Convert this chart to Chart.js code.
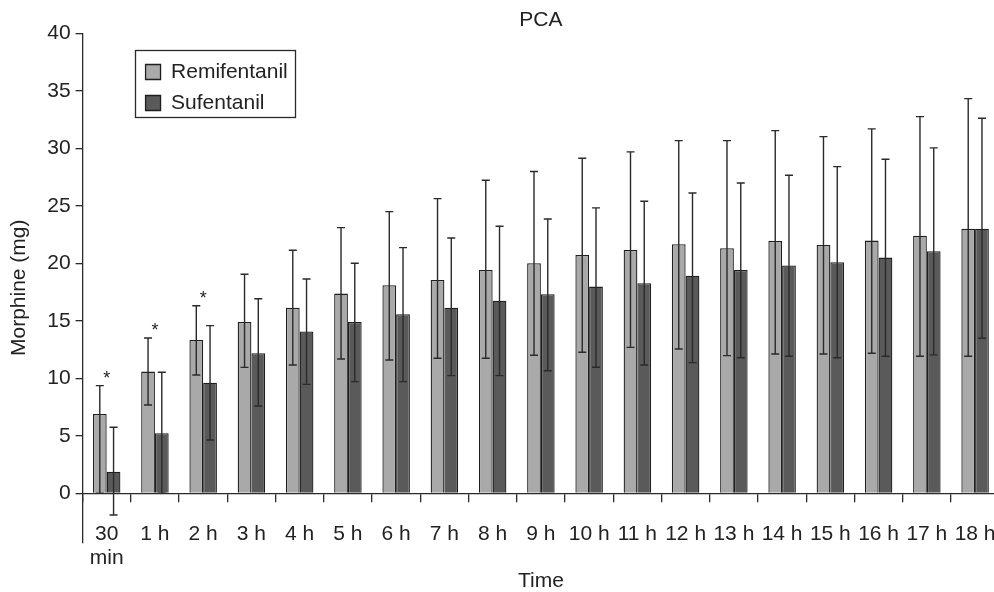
<!DOCTYPE html>
<html><head><meta charset="utf-8">
<script src="https://cdn.jsdelivr.net/npm/chart.js@4/dist/chart.umd.min.js"></script>
<style>html,body{margin:0;padding:0;background:#fff;overflow:hidden;width:994px;height:592px;}canvas{display:block;}</style>
</head><body>
<canvas id="c" width="1017" height="592"></canvas>
<script>
// ---- data ----
const CATEGORIES = [['30','min'],'1 h','2 h','3 h','4 h','5 h','6 h','7 h','8 h','9 h','10 h','11 h','12 h','13 h','14 h','15 h','16 h','17 h','18 h'];
const REMI_MEAN = [6.9,10.58,13.33,14.9,16.14,17.36,18.09,18.55,19.42,20.0,20.72,21.16,21.65,21.3,21.94,21.59,21.97,22.4,23.01];
const REMI_HIGH = [9.36,13.5,16.3,19.04,21.13,23.1,24.49,25.62,27.22,27.97,29.13,29.68,30.66,30.66,31.53,31.01,31.68,32.75,34.31];
const REMI_LOW  = [0,7.68,10.29,10.95,11.16,11.68,11.59,11.74,11.74,12.0,12.26,12.69,12.55,11.97,12.11,12.11,12.17,11.91,11.91];
const SUFE_MEAN = [1.88,5.22,9.62,12.17,14.06,14.9,15.56,16.14,16.75,17.3,17.97,18.26,18.92,19.42,19.8,20.09,20.49,21.04,23.01];
const SUFE_HIGH = [5.74,10.52,14.58,16.92,18.63,20.0,21.36,22.2,23.22,23.85,24.81,25.39,26.11,26.98,27.65,28.4,29.04,30.03,32.61];
const SUFE_LOW  = [-1.89,0,4.64,7.59,9.47,9.71,9.71,10.23,10.23,10.66,10.96,11.16,11.36,11.79,11.91,11.79,11.91,12.03,13.48];
const SIGNIFICANT = ['*','*','*','','','','','','','','','','','','','','','',''];
const Y_TICKS = [0,5,10,15,20,25,30,35,40];
const Y_MIN = -4.26, Y_MAX = 40;

const FONT = "'Liberation Sans', Arial, Helvetica, sans-serif";
const INK = '#222';
const LINE = '#2a2a2a';
Chart.defaults.font.family = FONT;
Chart.defaults.font.size = 21;
Chart.defaults.color = INK;

const legendMover = {
  id: 'legendMover',
  afterLayout(chart) {
    const lg = chart.legend; if (!lg) return;
    const ca = chart.chartArea;
    lg.left = ca.left + 53; lg.top = ca.top + 18.3;
    lg.right = lg.left + lg.width;
    lg.bottom = lg.top + Math.max(lg.height, 120);
  },
  afterDraw(chart) {
    const lg = chart.legend; if (!lg) return;
    const ctx = chart.ctx;
    ctx.save();
    ctx.font = '21px ' + FONT;
    let tw = 0;
    chart.data.datasets.forEach(d => { tw = Math.max(tw, ctx.measureText(d.label).width); });
    const w = 10 + 15 + 10.5 + tw + 8;
    const h = 10 + 21 + 10 + 21 + 5;
    ctx.strokeStyle = LINE; ctx.lineWidth = 1.3;
    ctx.strokeRect(Math.round(lg.left - 1) + 0.5, Math.round(lg.top - 1.5) + 0.5, Math.round(w), Math.round(h));
    ctx.restore();
  }
};

const errorBars = {
  id: 'errorBars',
  afterDatasetsDraw(chart) {
    const ctx = chart.ctx, y = chart.scales.y;
    ctx.save();
    ctx.strokeStyle = LINE; ctx.lineWidth = 1.4;
    chart.data.datasets.forEach((ds, i) => {
      const meta = chart.getDatasetMeta(i);
      meta.data.forEach((bar, j) => {
        const x = bar.x;
        const yh = y.getPixelForValue(ds.errHigh[j]);
        const yl = y.getPixelForValue(ds.errLow[j]);
        ctx.beginPath();
        ctx.moveTo(x, yh); ctx.lineTo(x, yl);
        ctx.moveTo(x - 4, yh); ctx.lineTo(x + 4, yh);
        ctx.moveTo(x - 4, yl); ctx.lineTo(x + 4, yl);
        ctx.stroke();
      });
    });
    ctx.restore();
  }
};

const stars = {
  id: 'stars',
  afterDatasetsDraw(chart) {
    const ctx = chart.ctx, x = chart.scales.x, y = chart.scales.y;
    ctx.save();
    ctx.fillStyle = INK; ctx.font = '18px ' + FONT;
    ctx.textAlign = 'center'; ctx.textBaseline = 'alphabetic';
    SIGNIFICANT.forEach((s, j) => {
      if (!s) return;
      const top = Math.max(REMI_HIGH[j], SUFE_HIGH[j]);
      ctx.fillText(s, x.getPixelForValue(j), y.getPixelForValue(top) - 2);
    });
    ctx.restore();
  }
};

new Chart(document.getElementById('c'), {
  type: 'bar',
  data: {
    labels: CATEGORIES,
    datasets: [
      { label: 'Remifentanil', data: REMI_MEAN, errHigh: REMI_HIGH, errLow: REMI_LOW,
        backgroundColor: '#a9a9a9', borderColor: '#1e1e1e', borderWidth: 1.3,
        barPercentage: 1, categoryPercentage: 0.57 },
      { label: 'Sufentanil', data: SUFE_MEAN, errHigh: SUFE_HIGH, errLow: SUFE_LOW,
        backgroundColor: '#5a5a5a', borderColor: '#1e1e1e', borderWidth: 1.3,
        barPercentage: 1, categoryPercentage: 0.57 }
    ]
  },
  options: {
    responsive: false, animation: false, devicePixelRatio: 1,
    layout: { padding: { top: 0, left: 0, right: 0, bottom: 49.7 } },
    plugins: {
      title: { display: true, text: 'PCA', fullSize: false, color: INK,
               font: { size: 21, weight: 'normal', lineHeight: 1.2 }, padding: { top: 8, bottom: 0 } },
      legend: { position: 'chartArea', align: 'start',
                labels: { boxWidth: 15, boxHeight: 15, padding: 10, color: INK, font: { size: 21 } } },
      tooltip: { enabled: false }
    },
    scales: {
      x: {
        type: 'category', position: { y: 0 }, offset: true,
        grid: { display: true, offset: true, drawOnChartArea: false, drawTicks: true, tickLength: 8, color: LINE, lineWidth: 1.3 },
        border: { display: true, color: LINE, width: 1.3 },
        ticks: { padding: 21, color: INK, font: { size: 21, lineHeight: 1.15 }, maxRotation: 0, autoSkip: false },
        title: { display: true, text: 'Time', color: INK, font: { size: 21, lineHeight: 1.2 }, padding: { top: -23, bottom: 0 } }
      },
      y: {
        min: Y_MIN, max: Y_MAX,
        afterBuildTicks: (s) => { s.ticks = Y_TICKS.map(v => ({ value: v })); },
        grid: { drawOnChartArea: false, drawTicks: true, tickLength: 7, color: LINE, lineWidth: 1.3 },
        border: { display: true, color: LINE, width: 1.3 },
        ticks: { padding: 5, color: INK, font: { size: 21 } },
        title: { display: true, text: 'Morphine (mg)', color: INK, font: { size: 21, lineHeight: 1.2 }, padding: { top: 7, bottom: 10 } }
      }
    }
  },
  plugins: [legendMover, errorBars, stars]
});
</script>
</body></html>
